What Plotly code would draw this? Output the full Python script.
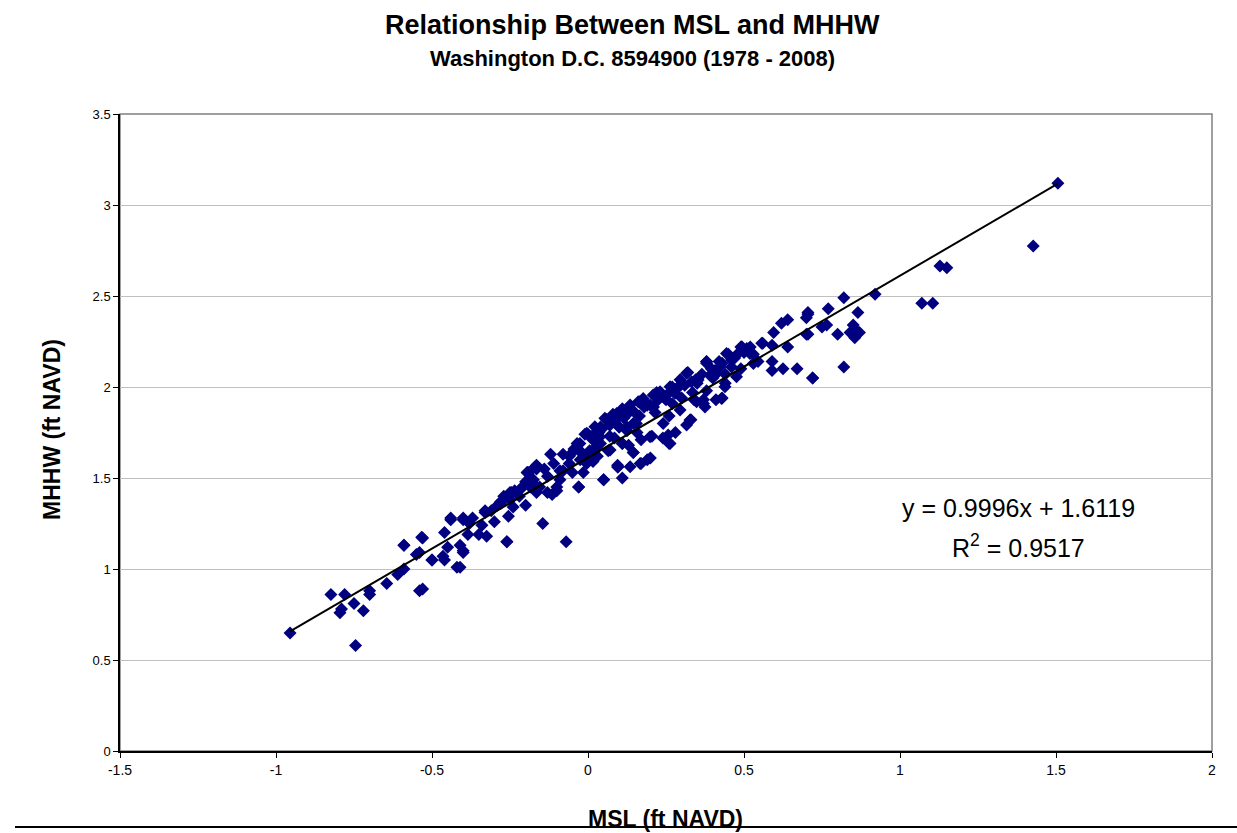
import plotly.graph_objects as go

# Monthly MSL (x) vs MHHW (y), ft NAVD
msl = [
    -0.955, -0.824, -0.78, -0.75, -0.79, -0.795, -0.72, -0.70, -0.70, -0.645, -0.745, -0.61, -0.59, -0.55, -0.59, -0.54,
    -0.533, -0.54, -0.50, -0.465, -0.45, -0.44, -0.46, -0.40, -0.41, -0.40, -0.41, -0.38, -0.385, -0.35, -0.325, -0.34,
    -0.33, -0.30, -0.29, -0.28, -0.26, -0.255, -0.25, -0.24, -0.22, -0.20, -0.195, -0.20, -0.175, -0.17, -0.165, -0.185,
    -0.12, -0.195, -0.165, -0.175, -0.21, -0.155, -0.13, -0.115, -0.10, -0.09, -0.06, -0.03, -0.035, -0.05, -0.015, 0.0,
    0.005, 0.03, 0.045, 0.05, 0.06, 0.065, 0.08, 0.095, 0.10, 0.11, 0.12, 0.13, -0.08, -0.025, 0.016, 0.03,
    0.38, 0.32, 0.27, 0.22, 0.18, 0.135, 0.09, 0.30, 0.37, 0.33, 0.26, 0.28, 0.24, 0.205, 0.17, 0.145,
    0.11, 0.17, 0.20, 0.095, 0.26, 0.34, 0.35, 0.295, 0.25, 0.21, 0.165, 0.125, 0.41, 0.40,
    0.705, 0.70, 0.64, 0.62, 0.595, 0.64, 0.59, 0.56, 0.52, 0.49, 0.45, 0.42, 0.38, 0.49, 0.545, 0.59,
    0.59, 0.625, 0.67, 0.72, 0.53, 0.46, 0.44, 0.41, 0.44, 0.38, 0.43, 0.37,
    0.82, 0.92, 1.07, 1.105, 0.77, 0.705, 0.70, 0.865, 0.765, 0.75, 0.85, 0.86, 0.84, 0.87, 0.855, 0.80, 0.705, 0.82, 0.72,
    1.506, 1.427, 1.128, 1.15,
    -0.165, -0.19, -0.18, -0.21, -0.245, -0.25, -0.28, -0.31, -0.33, -0.44, -0.40, -0.37, -0.13, -0.10, -0.08, -0.09,
    -0.05, -0.03, -0.01, -0.02, 0.006, 0.04, 0.06, 0.087, 0.096, 0.05, 0.145, 0.167, 0.11, 0.135, 0.167, 0.18,
    0.04, 0.016, 0.07, 0.10, 0.125, 0.145, 0.157, -0.145, -0.07, 0.11, 0.19,
    -0.53, -0.59, -0.53, -0.50, -0.46, -0.42, -0.40, -0.26,
    -0.004, 0.022, 0.054, 0.081, 0.092, 0.124, 0.135, 0.161, 0.177, 0.199, 0.209, 0.231, 0.247, 0.263, 0.279, 0.295,
    0.316, 0.332, 0.353, 0.380, 0.391, 0.407, 0.423, 0.444, 0.460, 0.476, 0.493, 0.509, 0.519, 0.557,
    0.071, 0.199, 0.241, 0.295, 0.348, 0.428, 0.439, 0.476, 0.530, 0.327, 0.316, 0.257, 0.263, 0.135, 0.375,
    -0.026, -0.015, 0.017, 0.038, -0.004,
    0.015, 0.035, 0.07, 0.115, 0.15, 0.19, 0.225, 0.255, 0.285, 0.31, 0.345, 0.365, 0.395, 0.43, 0.47, 0.50,
    -0.06, -0.045, -0.14, -0.11, -0.235, -0.27, 0.02, 0.085, 0.155, 0.215, 0.27, 0.335,
]
mhhw = [
    0.648, 0.86, 0.86, 0.81, 0.78, 0.76, 0.77, 0.88, 0.86, 0.92, 0.58, 0.97, 1.0, 1.08, 1.13, 0.88,
    1.174, 1.09, 1.05, 1.07, 1.12, 1.27, 1.20, 1.27, 1.13, 1.09, 1.01, 1.25, 1.19, 1.19, 1.18, 1.24,
    1.32, 1.26, 1.35, 1.37, 1.15, 1.29, 1.42, 1.34, 1.40, 1.35, 1.53, 1.48, 1.47, 1.56, 1.42, 1.45,
    1.63, 1.53, 1.55, 1.49, 1.45, 1.45, 1.51, 1.41, 1.43, 1.54, 1.58, 1.45, 1.69, 1.64, 1.53, 1.74,
    1.65, 1.76, 1.77, 1.49, 1.82, 1.65, 1.85, 1.56, 1.78, 1.88, 1.84, 1.68, 1.63, 1.60, 1.59, 1.62,
    2.13, 2.08, 2.00, 1.97, 1.92, 1.87, 1.82, 1.94, 1.91, 1.82, 1.84, 1.75, 1.72, 1.73, 1.71, 1.64,
    1.69, 1.58, 1.61, 1.57, 1.69, 1.93, 2.02, 2.04, 1.93, 1.89, 1.84, 1.78, 1.93, 2.05,
    2.40, 2.29, 2.37, 2.35, 2.30, 2.22, 2.23, 2.24, 2.22, 2.22, 2.18, 2.14, 2.14, 2.10, 2.14, 2.14,
    2.09, 2.10, 2.10, 2.05, 2.18, 2.11, 2.07, 2.07, 2.02, 1.98, 1.94, 1.93,
    2.49, 2.51, 2.46, 2.46, 2.43, 2.41, 2.38, 2.41, 2.34, 2.33, 2.34, 2.31, 2.30, 2.30, 2.27, 2.29, 2.29, 2.11, 2.05,
    3.12, 2.775, 2.665, 2.655,
    1.57, 1.53, 1.49, 1.45, 1.42, 1.38, 1.36, 1.32, 1.31, 1.28, 1.28, 1.28, 1.42, 1.45, 1.54, 1.49,
    1.53, 1.45, 1.74, 1.64, 1.61, 1.78, 1.82, 1.84, 1.56, 1.49, 1.64, 1.58, 1.69, 1.87, 1.92, 1.89,
    1.69, 1.73, 1.73, 1.78, 1.76, 1.80, 1.75, 1.25, 1.15, 1.50, 1.60,
    0.89, 1.13, 1.17, 1.05, 1.05, 1.01, 1.10, 1.15,
    1.746, 1.782, 1.828, 1.809, 1.855, 1.874, 1.901, 1.919, 1.937, 1.901, 1.956, 1.974, 1.937, 2.001, 1.965, 2.011,
    2.075, 2.029, 2.038, 2.139, 2.065, 2.091, 2.110, 2.184, 2.148, 2.176, 2.221, 2.212, 2.184, 2.240,
    1.654, 1.727, 1.80, 1.874, 1.919, 1.937, 2.001, 2.056, 2.129, 1.819, 1.791, 1.736, 1.69, 1.562, 1.89,
    1.69, 1.626, 1.654, 1.727, 1.58,
    1.71, 1.75, 1.79, 1.83, 1.86, 1.90, 1.93, 1.96, 1.99, 2.01, 2.04, 2.07, 2.10, 2.13, 2.16, 2.19,
    1.62, 1.66, 1.55, 1.58, 1.43, 1.40, 1.66, 1.72, 1.80, 1.86, 1.91, 1.97,
]

# Linear trend reported on the chart
slope = 0.9996
intercept = 1.6119
r_squared = 0.9517
trend_x = [min(msl), max(msl)]
trend_y = [slope * v + intercept for v in trend_x]

x_ticks = [-1.5, -1, -0.5, 0, 0.5, 1, 1.5, 2]
y_ticks = [0, 0.5, 1, 1.5, 2, 2.5, 3, 3.5]

FONT = "Liberation Sans, Arial, sans-serif"
W, H = 1237, 833
L, R, T, B = 120, 25, 114, 82
PW, PH = W - L - R, H - T - B


def px(x):
    return (x - L) / PW


def py(y):
    return (H - B - y) / PH


def label(text, x, y, size, angle=0):
    return dict(text=text, xref="paper", yref="paper", x=px(x), y=py(y),
                xanchor="center", yanchor="middle", textangle=angle,
                showarrow=False, font=dict(size=size, family=FONT, color="black"))


fig = go.Figure()
fig.add_trace(go.Scatter(
    x=msl, y=mhhw, mode="markers",
    marker=dict(symbol="diamond", size=10, color="#000080", line=dict(width=0)),
    showlegend=False, hoverinfo="x+y",
))
fig.add_trace(go.Scatter(
    x=trend_x, y=trend_y, mode="lines",
    line=dict(color="black", width=2), showlegend=False, hoverinfo="skip",
))

fig.update_layout(
    width=W, height=H,
    margin=dict(l=L, r=R, t=T, b=B),
    paper_bgcolor="white", plot_bgcolor="white",
    font=dict(family=FONT, color="black"),
    xaxis=dict(
        range=[-1.5, 2], tickvals=x_ticks, ticktext=[str(v) for v in x_ticks],
        showgrid=False, zeroline=False, showline=True, linecolor="black", linewidth=1.5,
        ticks="outside", ticklen=5, tickcolor="black", tickfont=dict(size=14, family=FONT),
    ),
    yaxis=dict(
        range=[0, 3.5], tickvals=y_ticks, ticktext=[str(v) for v in y_ticks],
        showgrid=True, gridcolor="#c0c0c0", gridwidth=1.2, zeroline=False,
        showline=True, linecolor="black", linewidth=1.5,
        ticks="outside", ticklen=5, tickcolor="black", tickfont=dict(size=13, family=FONT),
    ),
    shapes=[
        dict(type="rect", xref="paper", yref="paper", x0=0, y0=0, x1=1, y1=1,
             line=dict(color="#808080", width=1.5), layer="below"),
        dict(type="line", xref="paper", yref="paper", x0=px(15), x1=px(1237),
             y0=py(827), y1=py(827), line=dict(color="black", width=2)),
    ],
    annotations=[
        label("<b>Relationship Between MSL and MHHW</b>", 632, 25, 27),
        label("<b>Washington D.C. 8594900 (1978 - 2008)</b>", 632, 59, 22),
        label("<b>MHHW (ft NAVD)</b>", 52, 430, 23, angle=-90),
        label("<b>MSL (ft NAVD)</b>", 665, 819, 23),
        label(f"y = {slope}x + {intercept}", 1018, 508, 25),
        label(f"R<sup>2</sup> = {r_squared}", 1018, 546, 25),
    ],
)

fig.write_html("out.html")
